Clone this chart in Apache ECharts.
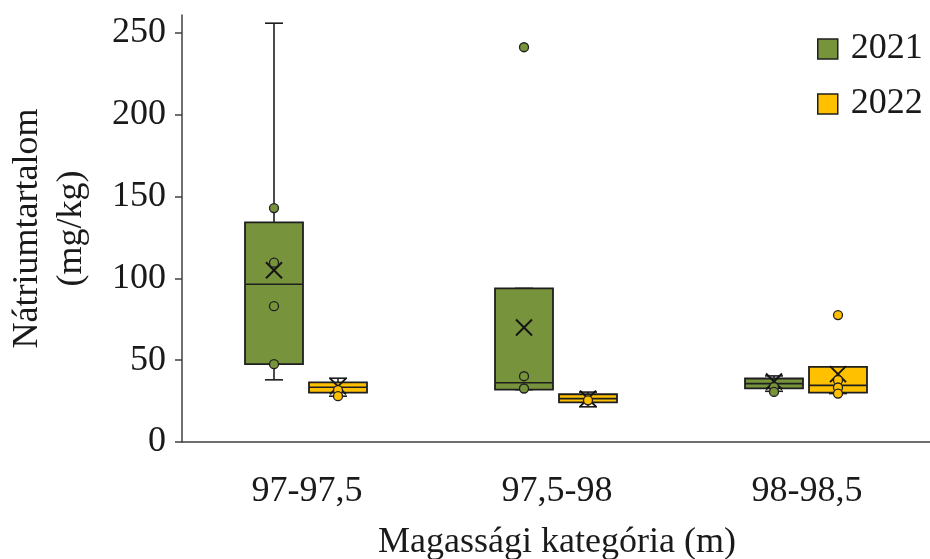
<!DOCTYPE html>
<html>
<head>
<meta charset="utf-8">
<script src="https://cdn.jsdelivr.net/npm/echarts@6/dist/echarts.min.js"></script>
<style>
  html, body { margin: 0; padding: 0; background: #fff; }
  #chart { width: 930px; height: 559px; }
</style>
</head>
<body>
<div id="chart"></div>
<script>
// Height categories on the x axis
const categories = ['97-97,5', '97,5-98', '98-98,5'];
const yTicks = [0, 50, 100, 150, 200, 250];

// Five-number summaries per category: [min, Q1, median, Q3, max]
const box2021 = [
  [38, 47.6, 96.4, 134.3, 256],
  [32, 32, 36.2, 93.9, 93.9],
  [31, 32.8, 35.7, 38.8, 40.4]
];
const box2022 = [
  [28, 30.2, 33.5, 36.5, 39],
  [21.5, 24.2, 26.5, 29.2, 30.5],
  [29.6, 30.2, 34.6, 45.9, 45.9]
];

// Means (drawn as X marks)
const mean2021 = [105, 70, 37];
const mean2022 = [34, 26.5, 41.5];

// Individual points: [category index, value]
const points2021 = [[0, 143], [0, 109.6], [0, 83], [0, 47.6], [1, 241.3], [1, 40.2], [1, 32.7], [2, 33.5], [2, 30.6]];
const points2022 = [[0, 31.7], [0, 28], [1, 25.5], [2, 77.6], [2, 37.8], [2, 33.3], [2, 29.6]];

const GREEN = '#77933C';
const YELLOW = '#FFC000';
const INK = '#1f1f1f';
const FONT = "'Liberation Serif', 'Times New Roman', serif";

const BOX_W = 58;
const CAP_W = 18;
const MEAN_W = 16;
const OFFSET_2021 = -33;
const OFFSET_2022 = 31;

function boxData(boxes, means) {
  return boxes.map((b, i) => [i].concat(b, [means[i]]));
}

function boxRenderer(offset, fill) {
  return function (params, api) {
    const i = api.value(0);
    const cx = api.coord([i, 0])[0] + offset;
    const y = k => api.coord([i, api.value(k)])[1];
    const yMin = y(1), yQ1 = y(2), yMed = y(3), yQ3 = y(4), yMax = y(5), yMean = y(6);
    const hb = BOX_W / 2, hc = CAP_W / 2, hm = MEAN_W / 2;
    const ln = { stroke: INK, lineWidth: 1.6 };
    return {
      type: 'group',
      children: [
        { type: 'line', shape: { x1: cx, y1: yMax, x2: cx, y2: yQ3 }, style: ln },
        { type: 'line', shape: { x1: cx, y1: yQ1, x2: cx, y2: yMin }, style: ln },
        { type: 'line', shape: { x1: cx - hc, y1: yMax, x2: cx + hc, y2: yMax }, style: ln },
        { type: 'line', shape: { x1: cx - hc, y1: yMin, x2: cx + hc, y2: yMin }, style: ln },
        { type: 'rect', shape: { x: cx - hb, y: yQ3, width: BOX_W, height: yQ1 - yQ3 },
          style: { fill: fill, stroke: INK, lineWidth: 1.8 } },
        { type: 'line', shape: { x1: cx - hb, y1: yMed, x2: cx + hb, y2: yMed }, style: ln },
        { type: 'line', z2: 10, shape: { x1: cx - hm, y1: yMean - hm, x2: cx + hm, y2: yMean + hm },
          style: { stroke: '#141414', lineWidth: 2 } },
        { type: 'line', z2: 10, shape: { x1: cx + hm, y1: yMean - hm, x2: cx - hm, y2: yMean + hm },
          style: { stroke: '#141414', lineWidth: 2 } }
      ]
    };
  };
}

function pointSeries(name, data, offset, fill) {
  return {
    name: name,
    type: 'scatter',
    data: data,
    symbol: 'circle',
    symbolSize: 9,
    symbolOffset: [offset, 0],
    itemStyle: { color: fill, borderColor: INK, borderWidth: 1.3, opacity: 1 },
    z: 3,
    silent: true
  };
}

const chart = echarts.init(document.getElementById('chart'));
chart.setOption({
  animation: false,
  backgroundColor: '#fff',
  grid: { left: 182, right: -2, top: 15, bottom: 117, outerBoundsMode: 'none', containLabel: false },
  legend: {
    orient: 'vertical',
    left: 812,
    top: 26,
    itemWidth: 20,
    itemHeight: 20,
    itemGap: 19,
    textStyle: { fontFamily: FONT, fontSize: 36, color: '#1a1a1a', padding: [0, 0, 0, 8] },
    data: [
      { name: '2021', icon: 'rect', itemStyle: { color: GREEN, borderColor: INK, borderWidth: 1.5 } },
      { name: '2022', icon: 'rect', itemStyle: { color: YELLOW, borderColor: INK, borderWidth: 1.5 } }
    ]
  },
  xAxis: {
    type: 'category',
    data: categories,
    name: 'Magassági kategória (m)',
    nameLocation: 'middle',
    nameGap: 83,
    nameTextStyle: { fontFamily: FONT, fontSize: 36, color: '#1a1a1a' },
    axisLine: { lineStyle: { color: '#404040', width: 1.5 } },
    axisTick: { interval: 0, length: 6, lineStyle: { color: '#404040', width: 1.5 } },
    axisLabel: { fontFamily: FONT, fontSize: 36, color: '#1a1a1a', margin: 32, interval: 0 },
    splitLine: { show: false }
  },
  yAxis: {
    type: 'value',
    min: 0,
    max: 261,
    name: 'Nátriumtartalom\n(mg/kg)',
    nameLocation: 'middle',
    nameRotate: 90,
    nameGap: 88,
    nameTextStyle: { fontFamily: FONT, fontSize: 36, color: '#1a1a1a', lineHeight: 44, align: 'center' },
    axisLine: { show: true, lineStyle: { color: '#404040', width: 1.5 } },
    axisTick: { show: true, length: 7, customValues: yTicks, lineStyle: { color: '#404040', width: 1.5 } },
    axisLabel: { fontFamily: FONT, fontSize: 36, color: '#1a1a1a', margin: 16, customValues: yTicks },
    splitLine: { show: false }
  },
  series: [
    {
      name: '2021',
      type: 'custom',
      data: boxData(box2021, mean2021),
      encode: { x: 0, y: [1, 2, 3, 4, 5] },
      renderItem: boxRenderer(OFFSET_2021, GREEN),
      itemStyle: { color: GREEN },
      z: 2
    },
    {
      name: '2022',
      type: 'custom',
      data: boxData(box2022, mean2022),
      encode: { x: 0, y: [1, 2, 3, 4, 5] },
      renderItem: boxRenderer(OFFSET_2022, YELLOW),
      itemStyle: { color: YELLOW },
      z: 2
    },
    pointSeries('2021', points2021, OFFSET_2021, GREEN),
    pointSeries('2022', points2022, OFFSET_2022, YELLOW)
  ]
});
</script>
</body>
</html>
